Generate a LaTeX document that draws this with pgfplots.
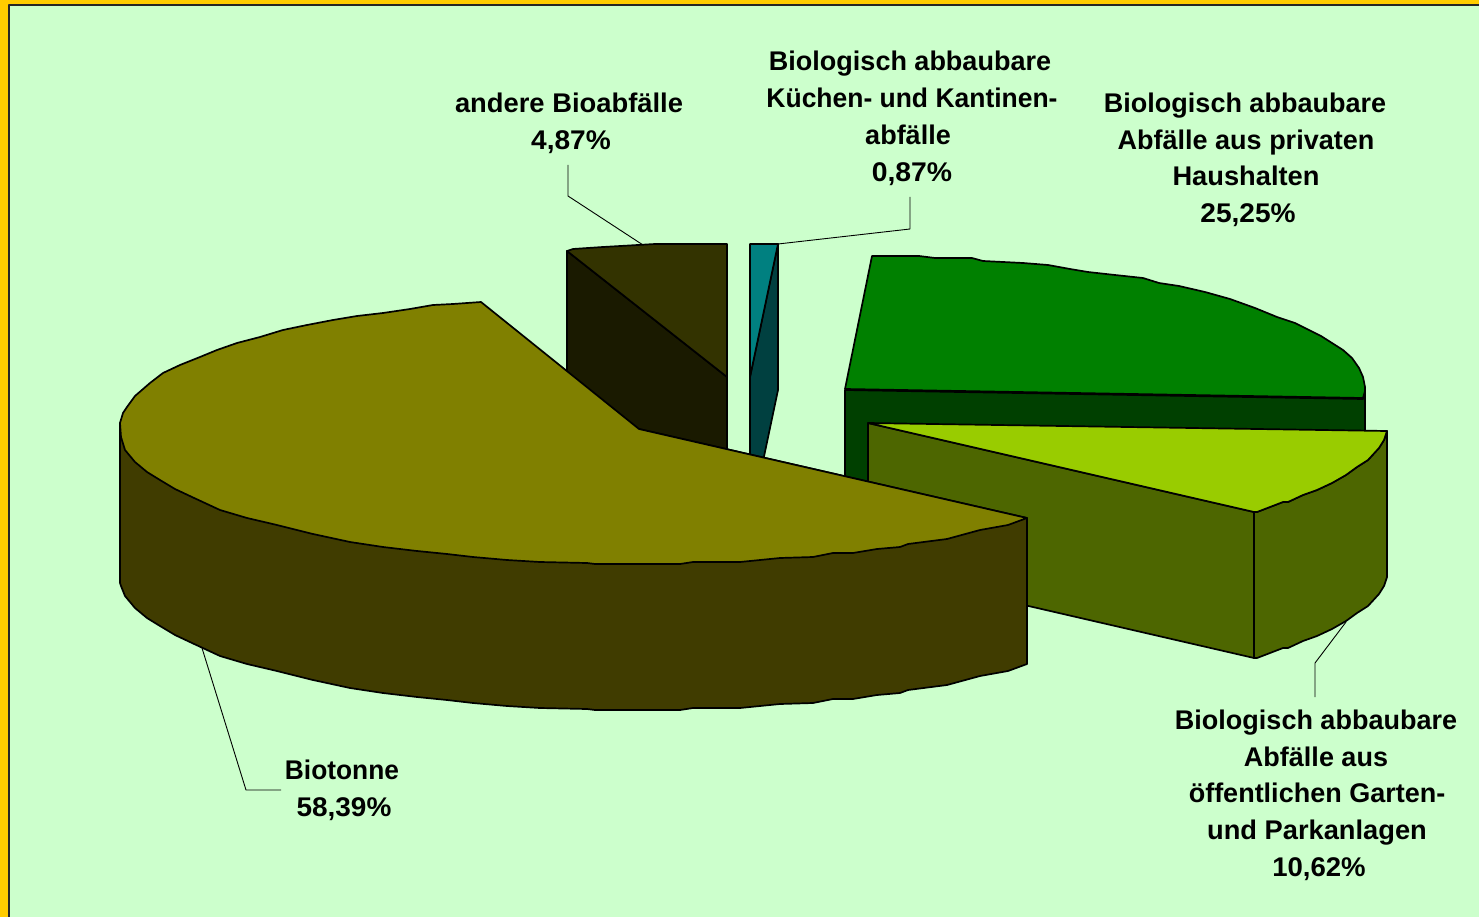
\documentclass[border=0pt]{standalone}
\usepackage{fontspec}
\setmainfont{Liberation Sans}
\usepackage{pgfplots}
\pgfplotsset{compat=1.18}

\definecolor{frameor}{HTML}{FFCC00}
\definecolor{bg}{HTML}{CCFFCC}
\definecolor{olivetop}{HTML}{808000}
\definecolor{oliveside}{HTML}{403C00}
\definecolor{backtop}{HTML}{333300}
\definecolor{backside}{HTML}{1A1A00}
\definecolor{tealtop}{HTML}{008080}
\definecolor{tealside}{HTML}{004040}
\definecolor{greentop}{HTML}{008000}
\definecolor{greenside}{HTML}{004000}
\definecolor{limetop}{HTML}{99CC00}
\definecolor{limeside}{HTML}{4D6600}

\newcommand{\lbl}[4][1]{\node[anchor=base,inner sep=0pt,xscale=#1] at (axis cs:#2,#3) {\fontsize{27}{30}\selectfont\bfseries #4};}

\begin{document}
\begin{tikzpicture}
\begin{axis}[
    scale only axis, width=1479pt, height=917pt,
    xmin=0, xmax=1479, ymin=0, ymax=917, y dir=reverse,
    axis lines=none, clip=true,
    axis background/.style={fill=frameor},
    every axis plot/.append style={line join=round},
    seg/.style={draw=black, line width=1.7pt},
    lead/.style={draw=black, line width=0.9pt},
]
% frame
\addplot[fill=bg, draw=black!85, line width=1.5pt] coordinates {(9,5) (1490,5) (1490,930) (9,930)} --cycle;

% leader lines
\addplot[lead] coordinates {(568,165) (568,196) (643,245)};
\addplot[lead] coordinates {(778,244) (910,229) (910,197)};
\addplot[lead] coordinates {(202,648) (246,790) (281,790)};
\addplot[lead] coordinates {(1346,622) (1315,663) (1315,697)};

% andere Bioabfaelle
\addplot[seg, fill=backside] coordinates {(567,251) (567,397) (727,523) (727,377)} --cycle;
\addplot[seg, fill=backtop] coordinates {(567,251) (573,249) (603,247) (655,244) (727,244) (727,377)} --cycle;

% Kuechen- und Kantinenabfaelle
\addplot[seg, fill=tealside] coordinates {(778,244) (778,390) (750,523) (750,377)} --cycle;
\addplot[seg, fill=tealtop] coordinates {(750,244) (778,244) (750,377)} --cycle;

% private Haushalte
\addplot[seg, fill=greenside] coordinates {(845,390) (1363,399) (1365,390) (1365,536) (1363,544) (845,536)} --cycle;
\addplot[seg, fill=greentop] coordinates {(872,256) (919,256) (935,258) (972,258) (983,261) (1023,263) (1048,265) (1070,269) (1088,272) (1115,275) (1143,278) (1159,283) (1179,286) (1205,292) (1230,299) (1255,308) (1277,317) (1295,323) (1321,336) (1332,343) (1343,350) (1352,358) (1359,368) (1363,377) (1365,387) (1365,391) (1363,398) (845,389)} --cycle;

% Garten- und Parkanlagen
\addplot[seg, fill=limeside] coordinates {(868,423) (1254,512) (1254,658) (868,569)} --cycle;
\addplot[seg, fill=limeside] coordinates {(1254,512) (1257,512) (1283,502) (1288,502) (1303,495) (1317,490) (1332,483) (1346,475) (1357,467) (1368,460) (1379,448) (1384,440) (1387,431) (1387,577) (1384,586) (1379,594) (1368,606) (1357,613) (1346,621) (1332,629) (1317,636) (1303,641) (1288,648) (1283,648) (1257,658) (1254,658)} --cycle;
\addplot[seg, fill=limetop] coordinates {(868,423) (1387,431) (1384,440) (1379,448) (1368,460) (1357,467) (1346,475) (1332,483) (1317,490) (1303,495) (1288,502) (1283,502) (1257,512) (1254,512)} --cycle;

% Biotonne
\addplot[seg, fill=oliveside] coordinates {(120,423) (120,583) (121,586) (125,596) (135,608) (147,618) (160,626) (175,635) (192,643) (220,656) (247,664) (277,671) (313,680) (350,688) (383,693) (417,697) (447,700) (473,703) (507,706) (540,708) (587,709) (595,710) (680,710) (693,708) (740,708) (780,704) (813,703) (833,699) (853,699) (877,695) (900,693) (908,690) (947,685) (980,676) (1008,671) (1027,664) (1027,518) (639,429)} --cycle;
\addplot[seg, fill=olivetop] coordinates {(481,302) (453,304) (433,305) (410,309) (383,313) (357,316) (333,320) (307,325) (283,330) (260,337) (237,343) (217,350) (200,357) (180,365) (163,373) (150,383) (135,396) (127,407) (123,413) (120,423) (121,437) (125,450) (135,462) (147,472) (160,480) (175,489) (192,497) (220,510) (247,518) (277,525) (313,534) (350,542) (383,547) (417,551) (447,554) (473,557) (507,560) (540,562) (587,563) (595,564) (680,564) (693,562) (740,562) (780,558) (813,557) (833,553) (853,553) (877,549) (900,547) (908,544) (947,539) (980,530) (1008,525) (1027,518) (639,429)} --cycle;

% labels
\lbl[1.013]{569}{112.5}{andere Bioabfälle}
\lbl[1.04]{571}{149.5}{4,87\%}
\lbl{910}{70.5}{Biologisch abbaubare}
\lbl[0.98]{912}{107.5}{Küchen- und Kantinen-}
\lbl{908}{144.5}{abfälle}
\lbl[1.05]{912}{181.5}{0,87\%}
\lbl{1245}{112.5}{Biologisch abbaubare}
\lbl{1246}{149.5}{Abfälle aus privaten}
\lbl[1.01]{1246}{185.5}{Haushalten}
\lbl[1.04]{1248}{222.5}{25,25\%}
\lbl{1316}{729}{Biologisch abbaubare}
\lbl{1316}{766}{Abfälle aus}
\lbl{1317}{802}{öffentlichen Garten-}
\lbl[1.01]{1317}{839}{und Parkanlagen}
\lbl[1.02]{1319}{876}{10,62\%}
\lbl[0.975]{342}{779}{Biotonne}
\lbl[1.035]{344}{816}{58,39\%}
\end{axis}
\end{tikzpicture}
\end{document}
